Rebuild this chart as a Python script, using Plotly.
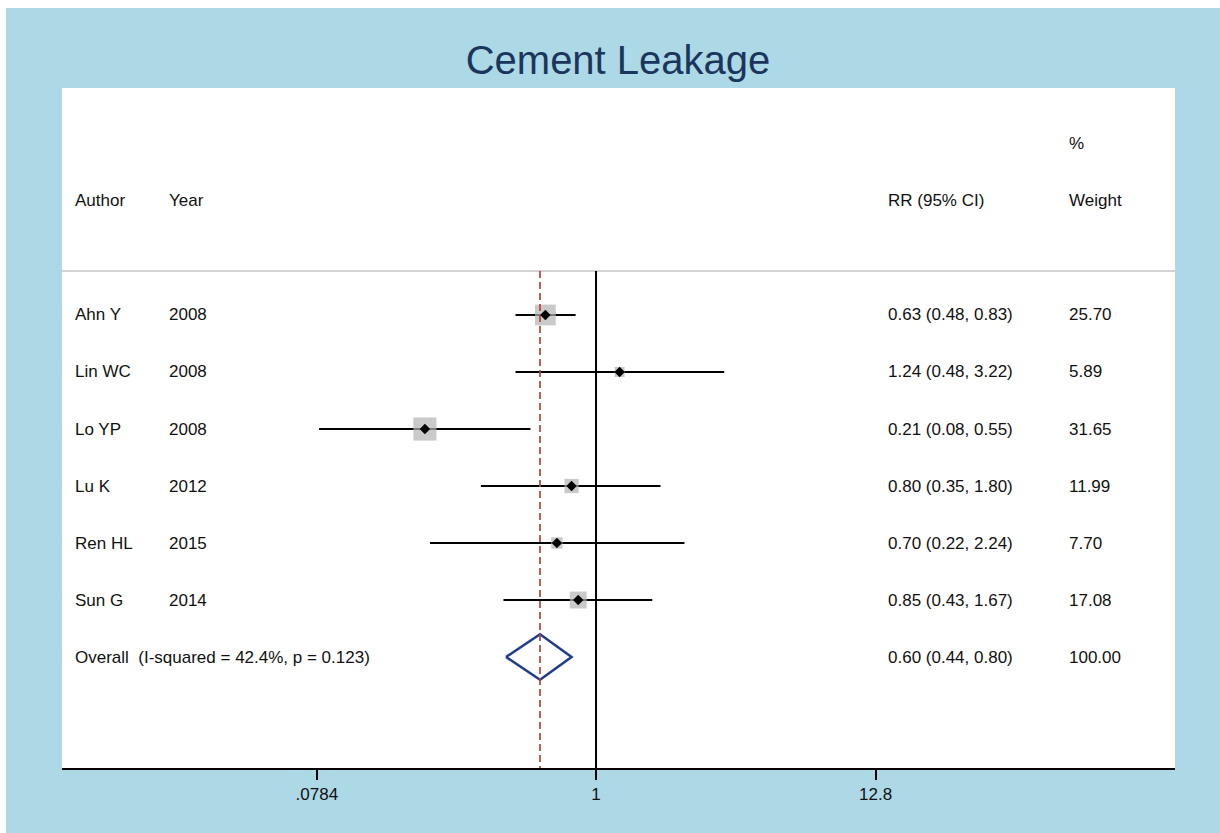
import math
import plotly.graph_objects as go

# Study data
authors = ["Ahn Y", "Lin WC", "Lo YP", "Lu K", "Ren HL", "Sun G"]
years = ["2008", "2008", "2008", "2012", "2015", "2014"]
rr = [0.63, 1.24, 0.21, 0.80, 0.70, 0.85]
lower = [0.48, 0.48, 0.08, 0.35, 0.22, 0.43]
upper = [0.83, 3.22, 0.55, 1.80, 2.24, 1.67]
weights = ["25.70", "5.89", "31.65", "11.99", "7.70", "17.08"]

overall_label = "Overall  (I-squared = 42.4%, p = 0.123)"
overall_rr = 0.60
overall_lo = 0.44
overall_hi = 0.80
overall_weight = "100.00"

tick_vals = [0.0784, 1, 12.8]
tick_text = [".0784", "1", "12.8"]

BLUE_BG = "#add8e6"
FONT = "Liberation Sans, Arial, Helvetica, sans-serif"
TEXT_SIZE = 17

n = len(authors)
rows = list(range(n))
overall_row = n

# layout geometry (pixels)
W, H = 1220, 833
L, R, T, B = 62, 1175, 88, 768
y_top, y_bot = -3.982, 7.947
header_line_y = -0.772

def px_to_paper_x(px):
    return (px - L) / (R - L)

fig = go.Figure()

# confidence interval segments
ci_x, ci_y = [], []
for i in rows:
    ci_x += [lower[i], upper[i], None]
    ci_y += [i, i, None]
fig.add_trace(go.Scatter(x=ci_x, y=ci_y, mode="lines",
                         line=dict(color="black", width=2.2), hoverinfo="skip"))

# weight boxes (area proportional to weight)
box_sizes = [4.1 * math.sqrt(float(w)) for w in weights]
fig.add_trace(go.Scatter(x=rr, y=rows, mode="markers",
                         marker=dict(symbol="square", size=box_sizes,
                                     color="#b3b3b3", line=dict(width=0)),
                         hoverinfo="skip"))

# point estimates
fig.add_trace(go.Scatter(x=rr, y=rows, mode="markers",
                         marker=dict(symbol="diamond", size=8, color="black"),
                         hoverinfo="skip"))

# pooled diamond
h = 0.40
fig.add_trace(go.Scatter(
    x=[overall_lo, overall_rr, overall_hi, overall_rr, overall_lo],
    y=[overall_row, overall_row - h, overall_row, overall_row + h, overall_row],
    mode="lines", line=dict(color="#1f3c88", width=2.5), hoverinfo="skip"))

shapes = [
    # header separator
    dict(type="line", xref="paper", yref="y", x0=0, x1=1,
         y0=header_line_y, y1=header_line_y,
         line=dict(color="#c4c4c4", width=1.5)),
    # null line at RR = 1
    dict(type="line", xref="x", yref="y", x0=1, x1=1,
         y0=header_line_y, y1=y_bot, line=dict(color="black", width=2)),
    # pooled estimate line
    dict(type="line", xref="x", yref="y", x0=overall_rr, x1=overall_rr,
         y0=header_line_y, y1=y_bot,
         line=dict(color="#b8433b", width=1.7, dash="7px,4px")),
    # white frame strips at top and left of the canvas
    dict(type="rect", xref="paper", yref="paper", layer="above",
         x0=px_to_paper_x(-5), x1=px_to_paper_x(W + 5),
         y0=(B - 8) / (B - T), y1=(B + 10) / (B - T),
         fillcolor="white", line=dict(width=0)),
    dict(type="rect", xref="paper", yref="paper", layer="above",
         x0=px_to_paper_x(-5), x1=px_to_paper_x(6),
         y0=(B - H - 10) / (B - T), y1=(B + 10) / (B - T),
         fillcolor="white", line=dict(width=0)),
]

annotations = []

def add_text(px, y, text):
    annotations.append(dict(xref="paper", yref="y", x=px_to_paper_x(px), y=y,
                            text=text, showarrow=False, xanchor="left",
                            yanchor="middle", xshift=-2,
                            font=dict(family=FONT, size=TEXT_SIZE, color="#111111")))

COL_AUTHOR, COL_YEAR, COL_RR, COL_W = 75, 169, 888, 1069

# column headers
add_text(COL_AUTHOR, -2, "Author")
add_text(COL_YEAR, -2, "Year")
add_text(COL_RR, -2, "RR (95% CI)")
add_text(COL_W, -3, "%")
add_text(COL_W, -2, "Weight")

for i in rows:
    add_text(COL_AUTHOR, i, authors[i])
    add_text(COL_YEAR, i, years[i])
    add_text(COL_RR, i, f"{rr[i]:.2f} ({lower[i]:.2f}, {upper[i]:.2f})")
    add_text(COL_W, i, weights[i])

add_text(COL_AUTHOR, overall_row, overall_label.replace("  ", "&nbsp; "))
add_text(COL_RR, overall_row, f"{overall_rr:.2f} ({overall_lo:.2f}, {overall_hi:.2f})")
add_text(COL_W, overall_row, overall_weight)

fig.update_layout(
    width=W, height=H,
    margin=dict(l=L, r=W - R, t=T, b=H - B),
    paper_bgcolor=BLUE_BG, plot_bgcolor="white",
    showlegend=False,
    title=dict(text="Cement Leakage", x=618 / W, xanchor="center",
               y=1 - 60 / H, yanchor="middle",
               font=dict(family=FONT, size=40, color="#1b365d")),
    shapes=shapes, annotations=annotations,
    xaxis=dict(type="log", range=[-2.115, 2.293],
               tickvals=tick_vals, ticktext=tick_text,
               showgrid=False, zeroline=False,
               showline=True, linecolor="black", linewidth=2,
               ticks="outside", ticklen=10, tickwidth=1.5, tickcolor="black",
               tickfont=dict(family=FONT, size=TEXT_SIZE, color="#111111")),
    yaxis=dict(range=[y_bot, y_top], showgrid=False, zeroline=False,
               showticklabels=False, showline=False, ticks=""),
)

fig.write_html("out.html")
